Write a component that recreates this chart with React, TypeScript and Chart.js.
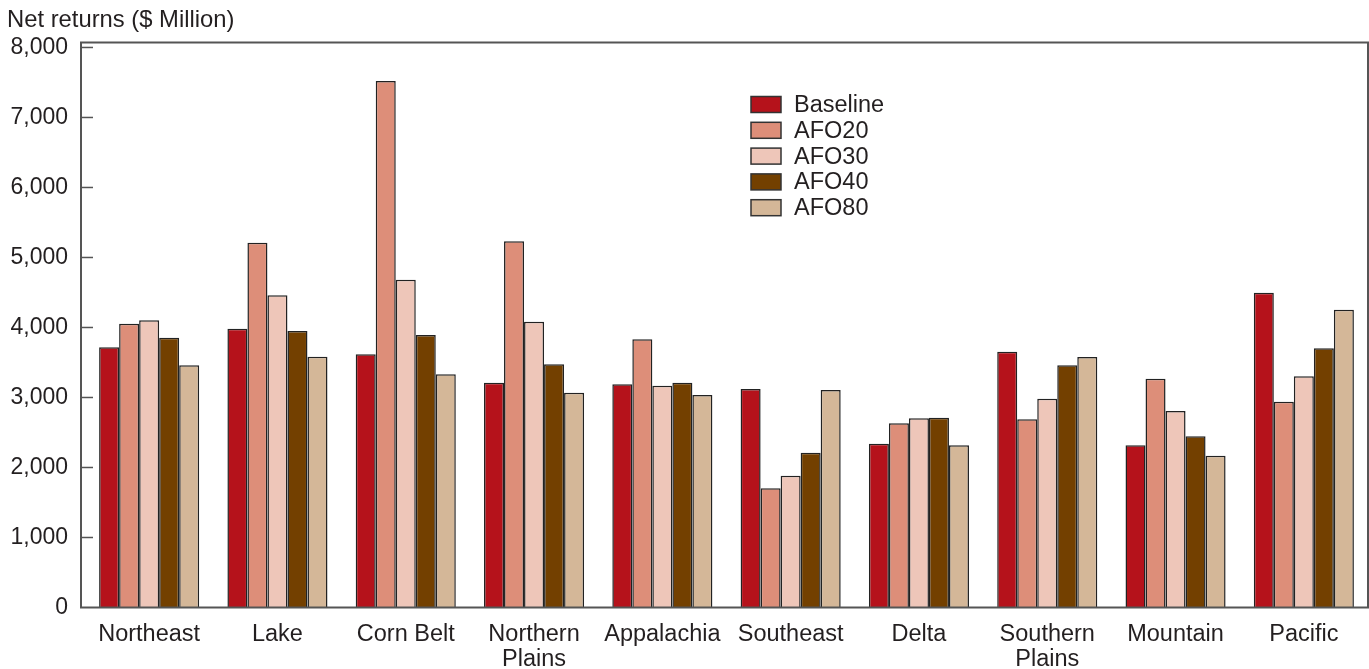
import React, { useEffect, useRef } from "react";
import { Chart, registerables } from "chart.js";

Chart.register(...registerables);

const categories: (string | string[])[] = [
  "Northeast",
  "Lake",
  "Corn Belt",
  ["Northern", "Plains"],
  "Appalachia",
  "Southeast",
  "Delta",
  ["Southern", "Plains"],
  "Mountain",
  "Pacific",
];

const seriesNames = ["Baseline", "AFO20", "AFO30", "AFO40", "AFO80"];
const seriesColors = ["#B5121B", "#DD8E79", "#EEC6B9", "#734000", "#D4B798"];

const baseline = [3717, 3983, 3617, 3211, 3189, 3121, 2340, 3654, 2317, 4497];
const afo20 = [4054, 5211, 7521, 5231, 3831, 1703, 2631, 2689, 3269, 2940];
const afo30 = [4103, 4460, 4683, 4083, 3169, 1883, 2703, 2983, 2807, 3303];
const afo40 = [3854, 3950, 3893, 3474, 3211, 2211, 2711, 3460, 2446, 3703];
const afo80 = [3460, 3583, 3331, 3069, 3036, 3107, 2317, 3579, 2169, 4254];

const yTicks = [0, 1000, 2000, 3000, 4000, 5000, 6000, 7000, 8000];
const yTitle = "Net returns ($ Million)";

const FONT = '"Liberation Sans", Arial, Helvetica, sans-serif';
const FRAME_INSET = 4;

const framePlugin = {
  id: "frame",
  afterDatasetsDraw(chart: any) {
    const { ctx, chartArea } = chart;
    const y = chart.scales.y;
    const left = chartArea.left - FRAME_INSET;
    ctx.save();
    ctx.strokeStyle = "#555555";
    ctx.lineWidth = 2;
    ctx.strokeRect(left, chartArea.top, chartArea.right - left, chartArea.bottom - chartArea.top);
    ctx.lineWidth = 1.5;
    yTicks.forEach((v) => {
      if (v === 0) return;
      const py = y.getPixelForValue(v);
      ctx.beginPath();
      ctx.moveTo(left, py);
      ctx.lineTo(left + 12, py);
      ctx.stroke();
    });
    ctx.restore();
  },
  afterDraw(chart: any) {
    const { ctx } = chart;
    ctx.save();
    ctx.fillStyle = "#231f20";
    ctx.font = `23.8px ${FONT}`;
    ctx.textAlign = "left";
    ctx.textBaseline = "alphabetic";
    ctx.fillText(yTitle, 7, 27);
    const bx = 751;
    const by = 96.5;
    const step = 25.8;
    chart.data.datasets.forEach((ds: any, i: number) => {
      const top = by + i * step;
      ctx.fillStyle = ds.backgroundColor;
      ctx.fillRect(bx, top, 30, 16);
      ctx.strokeStyle = "#333333";
      ctx.lineWidth = 1.5;
      ctx.strokeRect(bx, top, 30, 16);
      ctx.fillStyle = "#231f20";
      ctx.font = `23.5px ${FONT}`;
      ctx.textBaseline = "middle";
      ctx.fillText(ds.label, 794, top + 9);
    });
    ctx.restore();
  },
};

export default function App() {
  const ref = useRef<HTMLCanvasElement | null>(null);

  useEffect(() => {
    if (!ref.current) return;
    const all = [baseline, afo20, afo30, afo40, afo80];
    const chart = new Chart(ref.current, {
      type: "bar",
      data: {
        labels: categories,
        datasets: all.map((d, i) => ({
          label: seriesNames[i],
          data: d,
          backgroundColor: seriesColors[i],
          borderColor: "#222222",
          borderWidth: 1.5,
          categoryPercentage: 0.78,
          barPercentage: 1,
        })),
      },
      options: {
        responsive: false,
        animation: false,
        layout: { padding: { top: 42.5, right: 1, left: 0, bottom: 0 } },
        plugins: {
          legend: { display: false },
          tooltip: { enabled: false },
          title: { display: false },
        },
        scales: {
          x: {
            grid: { display: false, drawTicks: false },
            border: { display: false },
            ticks: {
              color: "#231f20",
              padding: 15,
              maxRotation: 0,
              autoSkip: false,
              font: { family: FONT, size: 23.5, lineHeight: 1.04 },
            },
            afterFit: (s: any) => {
              s.height = 61.5;
            },
          },
          y: {
            min: 0,
            max: 8071,
            grid: { display: false, drawTicks: false },
            border: { display: false },
            ticks: {
              stepSize: 1000,
              includeBounds: false,
              color: "#231f20",
              padding: 17,
              font: { family: FONT, size: 23 },
              callback: (v: any) => Number(v).toLocaleString("en-US"),
            },
            afterBuildTicks: (s: any) => {
              s.ticks = yTicks.map((v) => ({ value: v }));
            },
            afterFit: (s: any) => {
              s.width = 85;
            },
          },
        },
      },
      plugins: [framePlugin],
    });
    return () => chart.destroy();
  }, []);

  return (
    <div style={{ position: "absolute", left: 0, top: 0, width: 1369, height: 669, background: "#fff" }}>
      <canvas ref={ref} width={1369} height={669} style={{ display: "block" }} />
    </div>
  );
}
